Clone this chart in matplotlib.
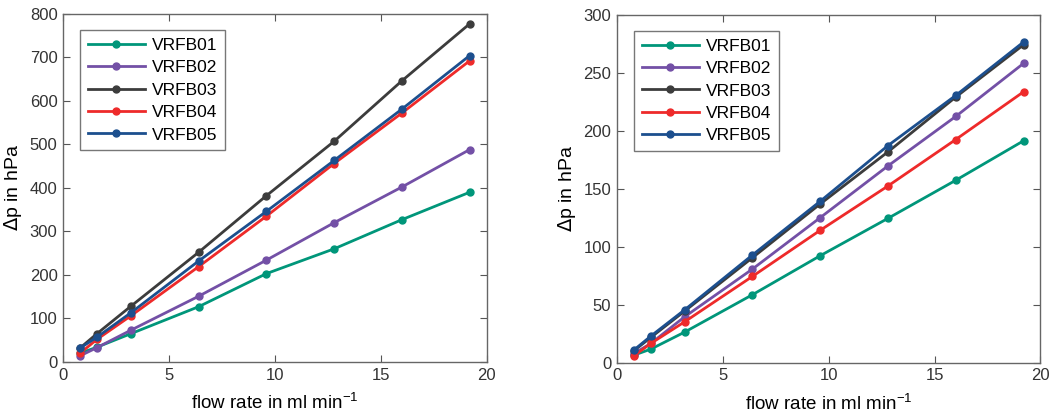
import numpy as np
import matplotlib
matplotlib.use("Agg")
from matplotlib import pyplot as plt

plt.rcParams['font.family'] = ['Liberation Sans', 'DejaVu Sans']

flow = [0.8, 1.6, 3.2, 6.4, 9.6, 12.8, 16.0, 19.2]
names = ['VRFB01', 'VRFB02', 'VRFB03', 'VRFB04', 'VRFB05']
colors = ['#00967a', '#7350a6', '#3c3c3c', '#ee2a2a', '#1c4f8e']

# left panel
dp_left = [
    [20, 34, 65, 127, 203, 260, 327, 390],
    [14, 33, 73, 151, 234, 320, 402, 488],
    [32, 65, 128, 252, 382, 507, 646, 777],
    [20, 52, 106, 219, 335, 456, 572, 692],
    [32, 57, 113, 232, 346, 463, 581, 704],
]
# right panel
dp_right = [
    [6.6, 11.8, 26.5, 58.7, 92.3, 124.5, 157.3, 191.3],
    [8.0, 16.7, 39.7, 80.8, 125.1, 169.7, 212.3, 258.0],
    [10.4, 21.9, 44.6, 90.6, 136.9, 181.8, 229.0, 274.0],
    [6.0, 16.7, 35.4, 74.5, 114.2, 152.4, 192.4, 233.5],
    [11.0, 23.0, 45.7, 92.9, 139.2, 187.2, 230.4, 276.4],
]

fig = plt.figure(figsize=(10.51, 4.18), dpi=100)
ax1 = fig.add_axes([0.060, 0.134, 0.403, 0.833])
ax2 = fig.add_axes([0.587, 0.132, 0.403, 0.833])

def style(ax, ymax, ystep):
    ax.set_xlim(0, 20)
    ax.set_ylim(0, ymax)
    ax.set_xticks(np.arange(0, 21, 5))
    ax.set_yticks(np.arange(0, ymax + 1, ystep))
    ax.tick_params(direction='in', top=True, right=True, length=5,
                   labelsize=12, colors='#555555', labelcolor='#333333', pad=4)
    for s in ax.spines.values():
        s.set_color('#666666')
        s.set_linewidth(1.0)
    ax.set_xlabel('flow rate in ml min$^{\\mathregular{-1}}$', fontsize=13.5, labelpad=7)
    ax.set_ylabel('$\\Delta$p in hPa', fontsize=14, labelpad=4)
    leg = ax.legend(loc='upper left', bbox_to_anchor=(0.04, 0.954), fontsize=12.5,
                    frameon=True, fancybox=False, handlelength=3.3, handletextpad=0.4,
                    labelspacing=0.42, borderpad=0.45, borderaxespad=0)
    leg.get_frame().set_edgecolor('#555555')
    leg.get_frame().set_linewidth(1.0)

for ax, data, ymax, ystep in [(ax1, dp_left, 800, 100), (ax2, dp_right, 300, 50)]:
    for name, col, vals in zip(names, colors, data):
        ax.plot(flow, vals, '-o', color=col, lw=2, ms=5, label=name)
    style(ax, ymax, ystep)

fig.savefig('out.png', dpi=100)
